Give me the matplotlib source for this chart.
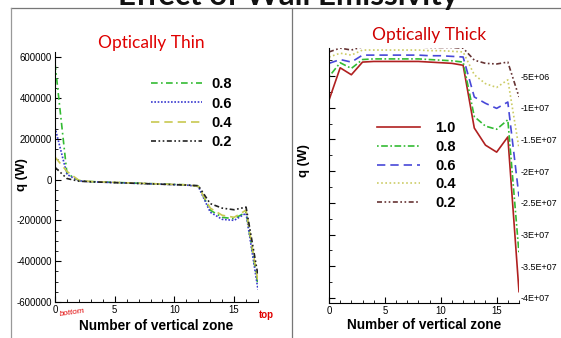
import matplotlib
matplotlib.use("Agg")
import matplotlib.pyplot as plt
from matplotlib.lines import Line2D
from matplotlib.ticker import MultipleLocator, FixedLocator, FixedFormatter

plt.rcParams['font.family'] = ['Liberation Sans', 'DejaVu Sans']
plt.rcParams['axes.unicode_minus'] = False

# ---------------- data ----------------
zones = list(range(18))

thin_labels = ["0.8", "0.6", "0.4", "0.2"]
thin_08 = [570000, 30000, -5000, -10000, -12000, -14000, -16000, -18000, -20000,
           -22000, -24000, -26000, -32000, -150000, -185000, -192000, -160000, -520000]
thin_06 = [255000, 25000, -6000, -11000, -13000, -15000, -17000, -19000, -21000,
           -23000, -25000, -27000, -34000, -160000, -195000, -200000, -165000, -540000]
thin_04 = [110000, 40000, -4000, -10000, -12000, -14000, -16000, -18000, -20000,
           -22000, -24000, -26000, -33000, -140000, -175000, -185000, -150000, -500000]
thin_02 = [60000, 5000, -8000, -11000, -13000, -15000, -17000, -19000, -21000,
           -23000, -25000, -27000, -30000, -118000, -140000, -148000, -135000, -470000]

thick_labels = ["1.0", "0.8", "0.6", "0.4", "0.2"]
thick_10 = [-8.8e6, -3.7e6, -4.8e6, -2.8e6, -2.7e6, -2.7e6, -2.7e6, -2.7e6, -2.7e6,
            -2.8e6, -2.9e6, -3.0e6, -3.3e6, -13.2e6, -15.9e6, -17.0e6, -14.6e6, -39.0e6]
thick_08 = [-5.1e6, -2.9e6, -3.8e6, -2.4e6, -2.3e6, -2.3e6, -2.3e6, -2.3e6, -2.3e6,
            -2.4e6, -2.5e6, -2.6e6, -2.8e6, -11.4e6, -12.9e6, -13.4e6, -11.9e6, -33.0e6]
thick_06 = [-3.0e6, -2.4e6, -2.8e6, -1.7e6, -1.7e6, -1.7e6, -1.7e6, -1.7e6, -1.7e6,
            -1.8e6, -1.8e6, -1.9e6, -2.0e6, -8.3e6, -9.3e6, -10.1e6, -9.1e6, -24.0e6]
thick_04 = [-2.0e6, -1.4e6, -1.7e6, -0.9e6, -0.9e6, -0.9e6, -0.9e6, -0.9e6, -0.9e6,
            -1.0e6, -1.0e6, -1.1e6, -1.2e6, -4.8e6, -6.2e6, -6.8e6, -5.6e6, -16.4e6]
thick_02 = [-1.2e6, -0.6e6, -0.9e6, -0.4e6, -0.4e6, -0.4e6, -0.4e6, -0.4e6, -0.4e6,
            -0.5e6, -0.5e6, -0.5e6, -0.6e6, -2.5e6, -3.0e6, -3.1e6, -2.8e6, -8.3e6]

thin_yticks = [600000, 400000, 200000, 0, -200000, -400000, -600000]
thick_yticks = [-5e6, -1e7, -1.5e7, -2e7, -2.5e7, -3e7, -3.5e7, -4e7]
thick_yticklabels = ["-5E+06", "-1E+07", "-1.5E+07", "-2E+07", "-2.5E+07",
                     "-3E+07", "-3.5E+07", "-4E+07"]

# ---------------- figure ----------------
W, H = 561, 338
fig = plt.figure(figsize=(W / 100, H / 100), dpi=100)
fig.patch.set_facecolor("white")


def px(x0, y0, x1, y1):
    return [x0 / W, 1 - y1 / H, (x1 - x0) / W, (y1 - y0) / H]


# slide frame lines
fig.add_artist(Line2D([11 / W, 1.0], [1 - 8 / H, 1 - 8 / H], color="#777777", lw=0.9))
fig.add_artist(Line2D([11 / W, 11 / W], [0, 1 - 8 / H], color="#999999", lw=0.9))
fig.add_artist(Line2D([292 / W, 292 / W], [0, 1 - 8 / H], color="#777777", lw=0.9))

# title (cut at top)
fig.text(288 / W, 1 - 4.5 / H, "Effect of Wall Emissivity", ha="center", va="baseline",
         fontsize=22.5, fontweight="bold", family=["Lato", "DejaVu Sans"], color="#111111")

tick_font = 6.9

# ---------------- left: optically thin ----------------
ax1 = fig.add_axes(px(55, 52, 258, 302))
styles_thin = [
    dict(color="#33bb33", ls=(0, (4, 2, 1, 2)), lw=1.2),
    dict(color="#3a3ad0", ls=(0, (1, 1)), lw=1.2),
    dict(color="#c8c850", ls=(0, (5, 3)), lw=1.2),
    dict(color="#222222", ls=(0, (3, 1.5, 1, 1.5, 1, 1.5)), lw=1.2),
]
for vals, lab, st in zip([thin_08, thin_06, thin_04, thin_02], thin_labels, styles_thin):
    ax1.plot(zones, vals, label=lab, **st)
ax1.set_xlim(0, 17)
ax1.set_ylim(-600000, 625000)
ax1.set_yticks(thin_yticks)
ax1.yaxis.set_minor_locator(MultipleLocator(50000))
ax1.xaxis.set_major_locator(FixedLocator([0, 5, 10, 15]))
ax1.xaxis.set_minor_locator(MultipleLocator(1))
ax1.spines["top"].set_visible(False)
ax1.spines["right"].set_visible(False)
ax1.tick_params(axis="both", which="major", direction="in", length=4, width=0.8,
                labelsize=tick_font, pad=2)
ax1.tick_params(axis="both", which="minor", direction="in", length=2, width=0.6)
ax1.set_xlabel("Number of vertical zone", fontsize=9.8, fontweight="bold")
ax1.xaxis.set_label_coords(0.5, -0.07)
ax1.set_ylabel("q (W)", fontsize=9.5, fontweight="bold")
ax1.yaxis.set_label_coords(-0.133, 0.51)
leg1 = ax1.legend(loc="upper left", bbox_to_anchor=((144 - 55) / 203, (302 - 70) / 250),
                  frameon=False, handlelength=3.5, handletextpad=0.6,
                  labelspacing=0.36, borderpad=0,
                  prop=dict(size=10.5, weight="bold"))

# ---------------- right: optically thick ----------------
ax2 = fig.add_axes(px(329, 48, 519, 303))
styles_thick = [
    dict(color="#b02020", ls="-", lw=1.2),
    dict(color="#33bb33", ls=(0, (1, 1.5, 4, 1.5)), lw=1.2),
    dict(color="#4848d8", ls=(0, (5, 3)), lw=1.2),
    dict(color="#cccc66", ls=(0, (1, 1.5)), lw=1.2),
    dict(color="#663333", ls=(0, (3, 1.5, 1, 1.5, 1, 1.5)), lw=1.2),
]
for vals, lab, st in zip([thick_10, thick_08, thick_06, thick_04, thick_02],
                         thick_labels, styles_thick):
    ax2.plot(zones, vals, label=lab, **st)
ax2.set_xlim(0, 17)
ax2.set_ylim(-40.79e6, -0.58e6)
ax2.yaxis.set_major_locator(FixedLocator(thick_yticks))
ax2.yaxis.set_major_formatter(FixedFormatter(thick_yticklabels))
ax2.yaxis.set_minor_locator(MultipleLocator(2.5e6))
ax2.xaxis.set_major_locator(FixedLocator([0, 5, 10, 15]))
ax2.xaxis.set_minor_locator(MultipleLocator(1))
ax2.spines["top"].set_visible(False)
ax2.spines["right"].set_visible(False)
ax2.tick_params(axis="both", which="major", direction="in", length=4, width=0.8,
                labelsize=tick_font, pad=2)
ax2.tick_params(axis="both", which="minor", direction="in", length=2, width=0.6)
ax2.tick_params(axis="y", which="both", left=True, right=False,
                labelleft=False, labelright=True, pad=1, labelsize=6.5)
ax2.set_xlabel("Number of vertical zone", fontsize=9.8, fontweight="bold")
ax2.xaxis.set_label_coords(0.5, -0.06)
ax2.set_ylabel("q (W)", fontsize=9.5, fontweight="bold")
ax2.yaxis.set_label_coords(-0.1, 0.56)
leg2 = ax2.legend(loc="upper left", bbox_to_anchor=((370 - 329) / 190, (303 - 114) / 255),
                  frameon=False, handlelength=2.9, handletextpad=1.1,
                  labelspacing=0.32, borderpad=0,
                  prop=dict(size=10.5, weight="bold"))

# red annotations
fig.text(151 / W, 1 - 43 / H, "Optically Thin", ha="center", va="center",
         fontsize=12.5, color="#e00000", family=["Lato", "DejaVu Sans"])
fig.text(429 / W, 1 - 35 / H, "Optically Thick", ha="center", va="center",
         fontsize=12.5, color="#d00000", family=["Lato", "DejaVu Sans"])
fig.text(72 / W, 1 - 313 / H, "bottom", ha="center", va="center", fontsize=6,
         color="#e00000", style="italic", rotation=8)
fig.text(266 / W, 1 - 315 / H, "top", ha="center", va="center", fontsize=7,
         color="#e00000", fontweight="bold")

fig.savefig("out.png", dpi=100)
